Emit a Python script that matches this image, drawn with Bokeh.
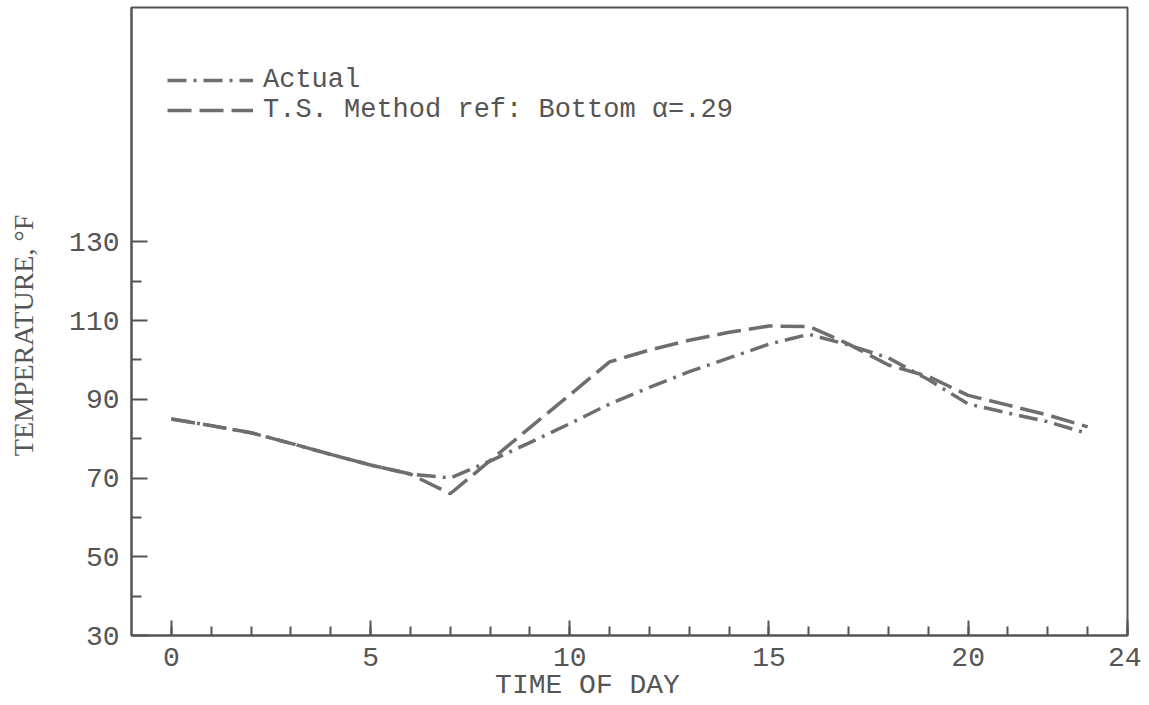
from bokeh.plotting import figure
from bokeh.models import Range1d, FixedTicker, Legend, LegendItem
from bokeh.embed import file_html
from bokeh.resources import INLINE

# ---- data ----
hours = list(range(24))
actual = [85, 83.3, 81.5, 78.8, 76, 73.3, 71, 70, 74.3, 79, 83.8, 88.8,
          93, 97, 100.5, 104, 106.5, 103.8, 100.5, 95, 88.8, 86.5, 84.3, 81.3]
ts_method = [85, 83.3, 81.5, 78.8, 76, 73.3, 71, 66, 74.4, 82.8, 91.1, 99.5,
             102.5, 105, 107, 108.6, 108.5, 104, 98.7, 95.8, 91, 88.5, 86, 83]
x_ticks = [0, 5, 10, 15, 20, 24]
x_minor = list(range(0, 25))
y_ticks = [30, 50, 70, 90, 110, 130]
y_minor = [40, 60, 80, 100, 120]
series_names = ["Actual", "T.S. Method ref: Bottom \u03b1=.29"]
x_title = "TIME OF DAY"
y_title = "TEMPERATURE,  \u00b0F"

INK = "#555555"
LINE = "#6e6e6e"
MONO = "Liberation Mono"
NB = "\u00a0"

p = figure(width=1141, height=705, output_backend="svg", toolbar_location=None,
           x_range=Range1d(-1, 24), y_range=Range1d(30, 189.5),
           min_border_left=131, min_border_right=14, min_border_top=7,
           min_border_bottom=70)
p.grid.visible = False
p.background_fill_color = "white"
p.border_fill_color = "white"
p.outline_line_color = INK
p.outline_line_width = 2

r_act = p.line(hours, actual, line_color=LINE, line_width=3.5,
               line_dash="19 7 3 7")
r_ts = p.line(hours, ts_method, line_color=LINE, line_width=3.5,
              line_dash="24 8")

for ax in (p.xaxis[0], p.yaxis[0]):
    ax.axis_line_color = INK
    ax.axis_line_width = 2
    ax.major_tick_line_color = INK
    ax.major_tick_line_width = 2
    ax.minor_tick_line_color = INK
    ax.minor_tick_line_width = 2
    ax.major_tick_out = 0
    ax.minor_tick_out = 0
    ax.major_label_text_font = MONO
    ax.major_label_text_font_size = "28px"
    ax.major_label_text_color = INK
    ax.axis_label_text_color = INK
    ax.axis_label_text_font_style = "normal"

p.xaxis[0].ticker = FixedTicker(ticks=x_ticks, minor_ticks=x_minor)
p.xaxis[0].major_tick_in = 15
p.xaxis[0].minor_tick_in = 9
p.xaxis[0].major_label_standoff = 12
p.xaxis[0].axis_label = x_title + NB * 5
p.xaxis[0].axis_label_text_font = MONO
p.xaxis[0].axis_label_text_font_size = "28px"
p.xaxis[0].axis_label_standoff = 1

p.yaxis[0].ticker = FixedTicker(ticks=y_ticks, minor_ticks=y_minor)
p.yaxis[0].major_tick_in = 16
p.yaxis[0].minor_tick_in = 10
p.yaxis[0].major_label_standoff = 12
p.yaxis[0].axis_label = y_title + NB * 3
p.yaxis[0].axis_label_text_font = "Liberation Serif"
p.yaxis[0].axis_label_text_font_size = "28px"
p.yaxis[0].axis_label_standoff = 27

legend = Legend(items=[LegendItem(label=series_names[0], renderers=[r_act]),
                       LegendItem(label=series_names[1], renderers=[r_ts])],
                location=(36, 510), margin=0, padding=0, spacing=0,
                glyph_width=86, glyph_height=30, label_height=30,
                label_standoff=10, label_text_font=MONO,
                label_text_font_size="27px", label_text_color=INK,
                border_line_alpha=0, background_fill_alpha=0)
p.add_layout(legend)

open("out.html", "w").write(file_html(p, INLINE))
